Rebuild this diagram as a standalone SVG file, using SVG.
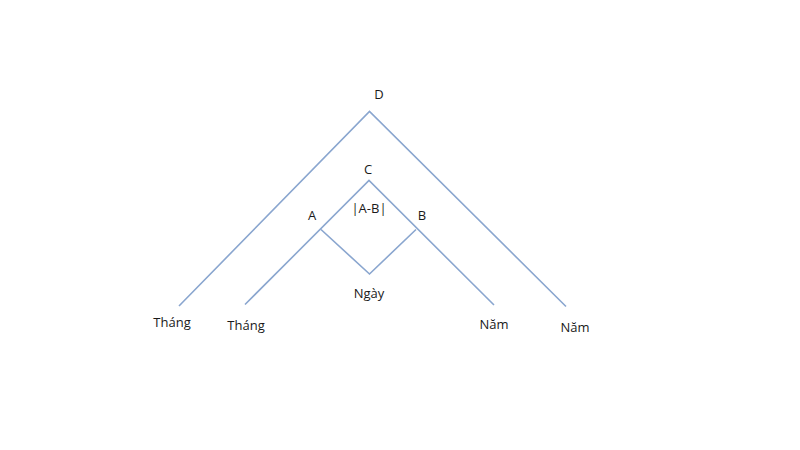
<svg xmlns="http://www.w3.org/2000/svg" width="800" height="450" viewBox="0 0 800 450">
<style>
.ln{fill:none;stroke:#8aa6cf;stroke-width:1.6;stroke-linejoin:miter}
.t{font-family:"Open Sans","Liberation Sans",sans-serif;font-size:13px;fill:#1a1a1a;text-anchor:middle;dominant-baseline:central}
</style>
<rect width="800" height="450" fill="#ffffff"/>
<g id="connectors">
<polyline class="ln" points="179,306 369.5,111.5 566,306.5"/>
<polyline class="ln" points="245,304.5 369,180.5 494,305"/>
<polyline class="ln" points="321,229.5 369.5,274 416,229.5"/>
</g>
<g id="node-D"><text class="t" x="379" y="94">D</text></g>
<g id="node-C"><text class="t" x="368" y="169">C</text></g>
<g id="node-AB"><text class="t" x="369" y="208">|A-B|</text></g>
<g id="node-A"><text class="t" x="312" y="215">A</text></g>
<g id="node-B"><text class="t" x="422" y="215">B</text></g>
<g id="node-Ngay"><text class="t" x="369" y="293">Ngày</text></g>
<g id="node-Thang1"><text class="t" x="172" y="322">Tháng</text></g>
<g id="node-Thang2"><text class="t" x="246" y="325">Tháng</text></g>
<g id="node-Nam1"><text class="t" x="494" y="324">Năm</text></g>
<g id="node-Nam2"><text class="t" x="575" y="327">Năm</text></g>
</svg>
